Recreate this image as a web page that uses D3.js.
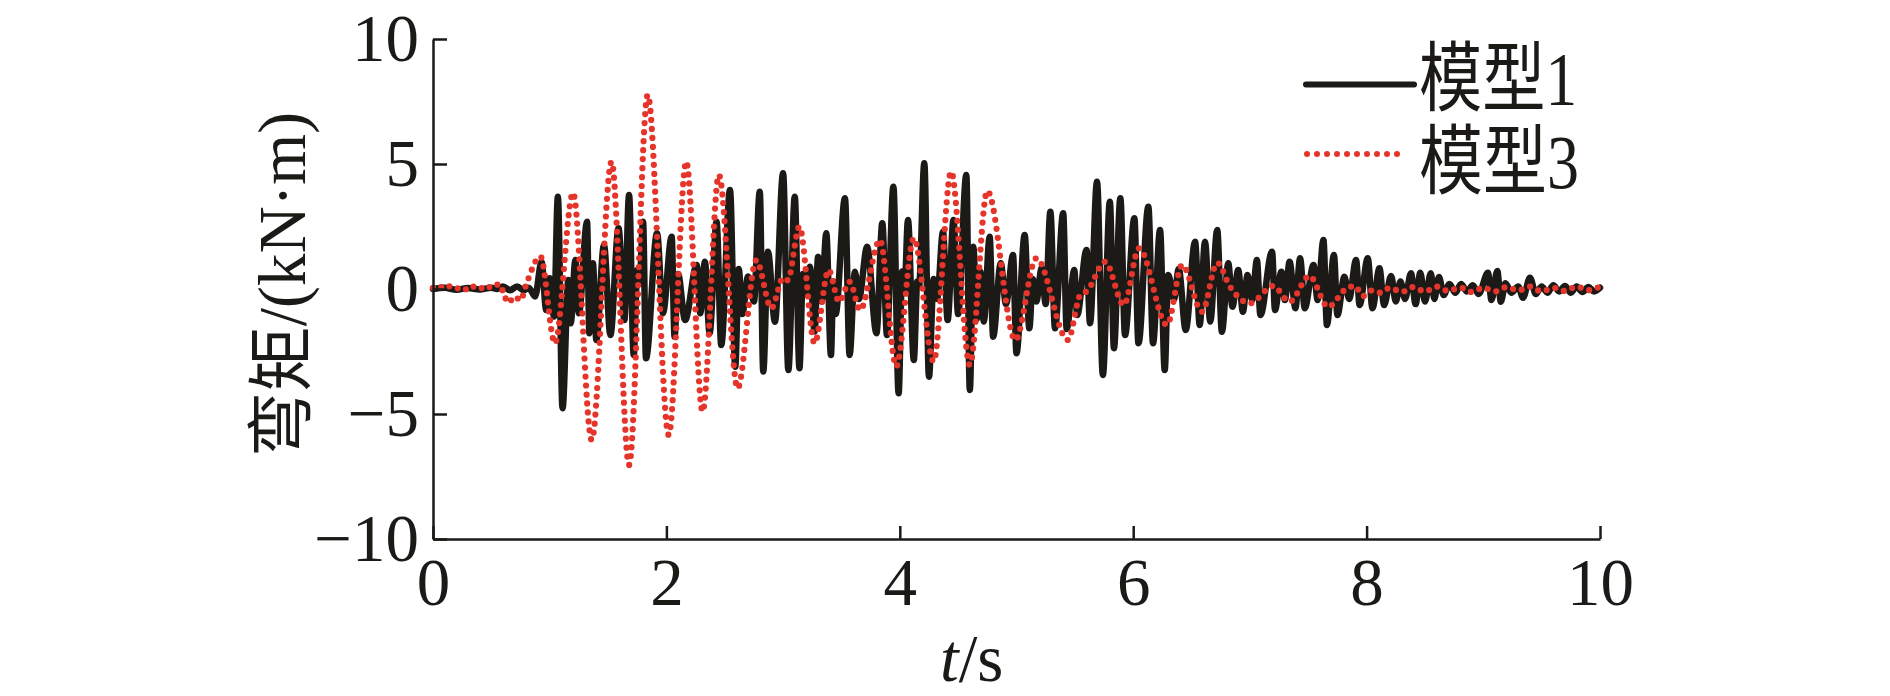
<!DOCTYPE html>
<html>
<head>
<meta charset="utf-8">
<script src="https://cdn.jsdelivr.net/npm/d3@7/dist/d3.min.js"></script>
<style>
  html, body { margin: 0; padding: 0; background: #fff; }
  svg { display: block; }
</style>
</head>
<body>
<svg id="chart" width="1890" height="696"></svg>
<script>
// ---- data ----
const xTicks = [0, 2, 4, 6, 8, 10];
const yTicks = [-10, -5, 0, 5, 10];
const seriesNames = ["模型1", "模型3"];
const xLabelItalic = "t";
const xLabelRest = "/s";
const yLabel = "弯矩/(kN·m)";

// 模型1 (solid black): extremum points of the record
const model1T = [0, 0.1, 0.2, 0.3, 0.4, 0.5, 0.55, 0.6, 0.66, 0.72, 0.78, 0.82, 0.875, 0.93, 0.97, 1.0, 1.037, 1.07, 1.11, 1.16, 1.18, 1.22, 1.25, 1.32, 1.34, 1.37, 1.40, 1.465, 1.52, 1.59, 1.64, 1.68, 1.72, 1.75, 1.77, 1.80, 1.825, 1.92, 1.97, 2.045, 2.07, 2.10, 2.16, 2.26, 2.29, 2.33, 2.37, 2.43, 2.47, 2.545, 2.59, 2.62, 2.65, 2.70, 2.75, 2.80, 2.83, 2.87, 2.93, 3.00, 3.045, 3.10, 3.14, 3.17, 3.20, 3.23, 3.27, 3.30, 3.33, 3.37, 3.41, 3.43, 3.45, 3.53, 3.57, 3.615, 3.65, 3.72, 3.80, 3.85, 3.89, 3.945, 3.99, 4.02, 4.04, 4.07, 4.12, 4.15, 4.165, 4.21, 4.25, 4.29, 4.32, 4.37, 4.41, 4.46, 4.50, 4.57, 4.60, 4.63, 4.66, 4.69, 4.72, 4.77, 4.80, 4.865, 4.91, 4.97, 5.00, 5.07, 5.11, 5.14, 5.17, 5.215, 5.25, 5.29, 5.33, 5.40, 5.43, 5.495, 5.52, 5.60, 5.63, 5.69, 5.74, 5.80, 5.835, 5.89, 5.93, 6.01, 6.045, 6.13, 6.17, 6.23, 6.27, 6.30, 6.35, 6.39, 6.45, 6.53, 6.57, 6.615, 6.66, 6.72, 6.76, 6.815, 6.85, 6.90, 6.94, 6.98, 7.02, 7.06, 7.09, 7.19, 7.215, 7.27, 7.30, 7.34, 7.39, 7.43, 7.47, 7.545, 7.58, 7.63, 7.66, 7.72, 7.75, 7.81, 7.85, 7.91, 7.94, 8.01, 8.05, 8.11, 8.15, 8.21, 8.25, 8.29, 8.33, 8.38, 8.42, 8.46, 8.50, 8.55, 8.58, 8.62, 8.66, 8.71, 8.76, 8.81, 8.86, 8.91, 8.96, 9.04, 9.07, 9.12, 9.15, 9.19, 9.24, 9.30, 9.34, 9.40, 9.45, 9.50, 9.55, 9.60, 9.65, 9.70, 9.75, 9.80, 9.85, 9.90, 9.95, 10];
const model1V = [0, 0.05, -0.03, 0.04, -0.02, 0.05, 0.0, 0.1, -0.05, 0.1, -0.05, 0.05, -0.3, 1.09, -0.84, 0.43, -1.1, 3.69, -4.77, 0.36, -1.37, 1.16, -0.97, 2.69, -1.77, 1.03, -2.04, 1.76, -1.84, 2.43, -1.24, 3.76, -2.64, 0.76, 0.2, 2.69, -2.77, 2.23, -0.97, 2.09, -1.91, 0.6, -1.24, 0.96, -0.97, 1.09, -1.77, 2.69, -2.24, 3.96, -3.11, 0.8, -1.0, 0.5, -0.5, 3.89, -3.3, 1.49, -1.31, 4.63, -3.24, 3.69, -3.17, 0.6, -0.2, 0.89, -1.7, 1.29, -0.5, 2.23, -2.64, 0.3, -1.0, 3.63, -2.64, 0.69, -0.4, 1.69, -1.77, 2.63, -1.84, 4.09, -4.17, 0.7, -0.1, 2.76, -2.84, 0.3, 0.1, 5.03, -3.51, 0.4, -0.4, 2.29, -1.24, 2.76, -1.0, 4.56, -4.04, 1.69, -1.2, 0.7, -1.3, 2.09, -1.91, 1.03, -0.6, 1.36, -2.57, 2.16, -1.57, 0.4, -0.5, 0.83, -0.6, 3.09, -1.57, 3.03, -1.6, 0.76, -1.04, 1.56, -1.37, 4.29, -3.44, 3.49, -2.37, 3.63, -1.84, 2.83, -2.17, 3.29, -2.17, 2.36, -3.24, 0.56, -0.4, 0.8, -1.64, 1.89, -1.44, 1.89, -1.3, 2.36, -1.71, 1.03, -0.71, 0.76, -0.91, 0.56, -0.44, 1.16, -1.04, 1.49, -0.84, 0.69, -0.44, 1.09, -0.77, 1.23, -0.77, 0.96, -0.44, 1.96, -1.44, 1.36, -1.04, 0.49, -0.4, 1.16, -0.64, 1.23, -0.77, 0.83, -0.64, 0.52, -0.5, 0.3, -0.4, 0.63, -0.6, 0.65, -0.5, 0.63, -0.4, 0.48, -0.24, 0.2, -0.15, 0.2, -0.1, 0.15, -0.2, 0.65, -0.44, 0.72, -0.51, 0.23, -0.15, 0.1, -0.35, 0.45, -0.2, 0.1, -0.15, 0.15, -0.1, 0.12, -0.15, 0.1, -0.12, 0.08, -0.1, 0.05];

// 模型3 (red dotted)
const model3T = [0, 0.05, 0.1, 0.15, 0.2, 0.25, 0.3, 0.35, 0.4, 0.45, 0.5, 0.57, 0.6, 0.645, 0.7, 0.75, 0.8, 0.92, 1.045, 1.20, 1.36, 1.53, 1.68, 1.84, 2.02, 2.17, 2.31, 2.45, 2.61, 2.77, 2.90, 3.0, 3.04, 3.14, 3.27, 3.39, 3.48, 3.57, 3.66, 3.83, 3.97, 4.12, 4.29, 4.44, 4.60, 4.75, 4.99, 5.17, 5.44, 5.55, 5.6, 5.76, 5.92, 6.05, 6.29, 6.42, 6.59, 6.72, 6.83, 7.0, 7.2, 7.34, 7.51, 7.67, 7.83, 7.9, 7.97, 8.05, 8.12, 8.2, 8.3, 8.4, 8.5, 8.6, 8.7, 8.8, 8.9, 9.0, 9.1, 9.2, 9.3, 9.4, 9.5, 9.6, 9.7, 9.8, 9.9, 10];
const model3V = [0.05, 0.12, 0.0, 0.12, 0.02, 0.08, -0.05, 0.1, 0.0, 0.15, 0.05, 0.2, -0.1, -0.55, -0.3, -0.45, 0.2, 1.3, -2.17, 3.84, -6.04, 5.09, -7.04, 7.76, -5.84, 5.09, -4.9, 4.56, -3.97, 1.15, -0.77, 0.45, 0.35, 2.49, -2.17, 0.76, -0.51, 0.29, -0.84, 1.96, -3.1, 2.03, -2.9, 4.69, -3.04, 3.92, -2.04, 1.23, -2.04, -0.2, -0.1, 1.09, -0.64, 1.63, -1.44, 0.96, -0.91, 1.05, 0.09, -0.57, 0.12, -0.51, 0.52, -0.71, 0.03, 0.12, -0.28, -0.05, -0.15, 0.05, -0.12, 0.08, -0.1, 0.1, -0.08, 0.06, -0.12, 0.05, -0.1, 0.08, -0.06, 0.1, -0.1, 0.05, -0.08, 0.1, -0.05, 0.1];

// ---- drawing ----
const svg = d3.select("#chart");
const x = d3.scaleLinear().domain([0, 10]).range([433, 1600]);
const y = d3.scaleLinear().domain([-10, 10]).range([539, 39]);

const serif = "'Liberation Serif', 'Times New Roman', 'Noto Sans CJK SC', serif";
const black = "#1b1a17";
const red = "#e5352b";

const line = d3.line()
  .x(d => x(d[0]))
  .y(d => y(d[1]))
  .curve(d3.curveMonotoneX);

const d1 = model1T.map((t, i) => [t, model1V[i]]);
const d3pts = model3T.map((t, i) => [t, model3V[i]]);

svg.append("path")
  .attr("d", line(d1))
  .attr("fill", "none")
  .attr("stroke", black)
  .attr("stroke-width", 6.5)
  .attr("stroke-linejoin", "round")
  .attr("stroke-linecap", "round");

svg.append("path")
  .attr("d", line(d3pts))
  .attr("fill", "none")
  .attr("stroke", red)
  .attr("stroke-width", 6.2)
  .attr("stroke-dasharray", "0 9")
  .attr("stroke-linecap", "round");

// axes
const yAxis = svg.append("g")
  .attr("transform", `translate(${x(0)},0)`)
  .call(d3.axisLeft(y).tickValues(yTicks).tickSizeInner(-14).tickSizeOuter(0).tickPadding(14));
const xAxis = svg.append("g")
  .attr("transform", `translate(0,${y(-10)})`)
  .call(d3.axisBottom(x).tickValues(xTicks).tickSizeInner(-13).tickSizeOuter(0).tickPadding(14));

[yAxis, xAxis].forEach(g => {
  g.attr("font-family", serif).attr("font-size", 67);
  g.selectAll("path.domain").attr("stroke", black).attr("stroke-width", 2.5);
  g.selectAll(".tick line").attr("stroke", black).attr("stroke-width", 2.5);
  g.selectAll(".tick text").attr("fill", black);
});
yAxis.selectAll(".tick text").attr("dy", null).attr("y", 21);
xAxis.selectAll(".tick text").attr("dy", null).attr("y", 66);

// axis titles
const xt = svg.append("text")
  .attr("x", 940).attr("y", 681)
  .attr("font-family", serif).attr("font-size", 67).attr("fill", black);
xt.append("tspan").attr("font-style", "italic").text(xLabelItalic);
xt.append("tspan").text(xLabelRest);

svg.append("text")
  .attr("transform", "translate(305,284.5) rotate(-90)")
  .attr("text-anchor", "middle")
  .attr("font-family", serif).attr("font-size", 67).attr("fill", black)
  .attr("textLength", 345).attr("lengthAdjust", "spacingAndGlyphs")
  .text(yLabel);

// legend
const legend = svg.append("g");
legend.append("line")
  .attr("x1", 1306).attr("x2", 1414).attr("y1", 84.5).attr("y2", 84.5)
  .attr("stroke", black).attr("stroke-width", 6).attr("stroke-linecap", "round");
legend.append("line")
  .attr("x1", 1307).attr("x2", 1407).attr("y1", 154).attr("y2", 154)
  .attr("stroke", red).attr("stroke-width", 6)
  .attr("stroke-dasharray", "0 10").attr("stroke-linecap", "round");
legend.append("text")
  .attr("x", 1419).attr("y", 105)
  .attr("font-family", serif).attr("font-size", 76).attr("fill", black)
  .attr("textLength", 158).attr("lengthAdjust", "spacingAndGlyphs")
  .text(seriesNames[0]);
legend.append("text")
  .attr("x", 1419).attr("y", 188)
  .attr("font-family", serif).attr("font-size", 76).attr("fill", black)
  .attr("textLength", 160).attr("lengthAdjust", "spacingAndGlyphs")
  .text(seriesNames[1]);
</script>
</body>
</html>
